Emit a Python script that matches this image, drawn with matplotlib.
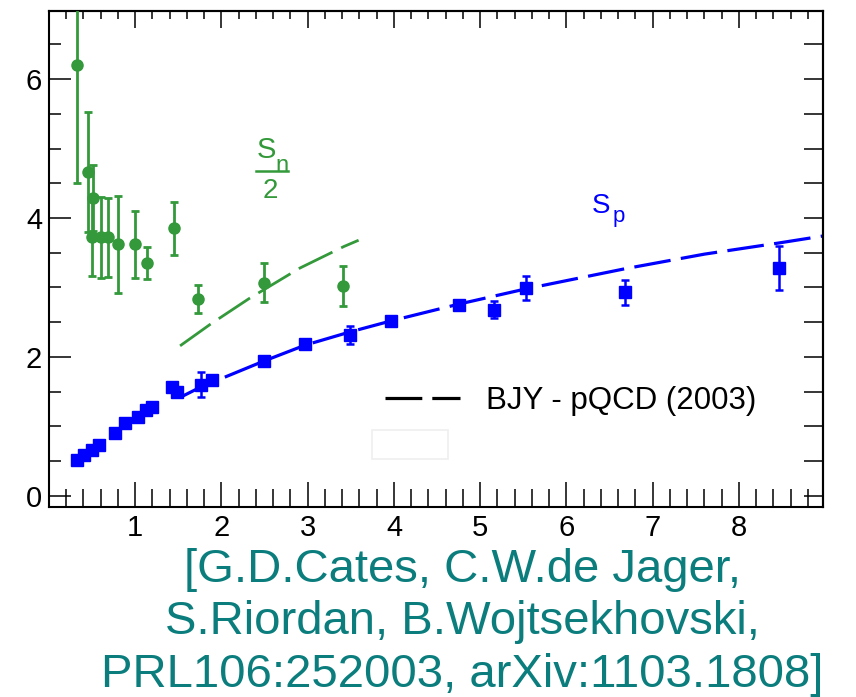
import numpy as np
import matplotlib
matplotlib.use('Agg')
import matplotlib.pyplot as plt
from matplotlib.lines import Line2D
from matplotlib.patches import Rectangle
from matplotlib.ticker import MultipleLocator

plt.rcParams['font.family'] = ['Liberation Sans', 'DejaVu Sans']
plt.rcParams['lines.scale_dashes'] = False

# neutron data, S_n / 2
sn_x = [0.32, 0.45, 0.51, 0.50, 0.60, 0.68, 0.80, 1.00, 1.14, 1.45, 1.73, 2.49, 3.41]
sn_y = [6.20, 4.66, 4.29, 3.72, 3.72, 3.72, 3.62, 3.62, 3.35, 3.85, 2.83, 3.07, 3.02]
sn_err = [1.70, 0.86, 0.47, 0.56, 0.58, 0.57, 0.70, 0.48, 0.23, 0.38, 0.20, 0.28, 0.29]

# proton data, S_p
sp_x = [0.33, 0.41, 0.50, 0.585, 0.77, 0.88, 1.03, 1.13, 1.20, 1.43, 1.49, 1.76, 1.89,
        2.49, 2.97, 3.49, 3.96, 4.75, 5.16, 5.53, 6.68, 8.46]
sp_y = [0.52, 0.59, 0.66, 0.73, 0.90, 1.05, 1.13, 1.24, 1.28, 1.57, 1.50, 1.60, 1.67,
        1.94, 2.18, 2.32, 2.52, 2.75, 2.68, 2.99, 2.93, 3.28]
sp_err = [0, 0, 0, 0, 0, 0, 0, 0, 0, 0, 0, 0.18, 0,
          0, 0, 0.13, 0, 0, 0.12, 0.17, 0.18, 0.31]

# BJY - pQCD (2003) curves
bjy_n_x = [1.52, 1.87, 2.32, 2.91, 3.42, 3.59]
bjy_n_y = [2.16, 2.47, 2.84, 3.28, 3.59, 3.68]
bjy_p_x = [1.54, 1.78, 2.04, 2.49, 2.97, 3.49, 3.97, 4.75, 5.53, 6.68, 7.60, 8.46, 8.97]
bjy_p_y = [1.43, 1.58, 1.71, 1.94, 2.17, 2.36, 2.52, 2.76, 2.98, 3.27, 3.48, 3.64, 3.74]

xticks = [1, 2, 3, 4, 5, 6, 7, 8]
yticks = [0, 2, 4, 6]

GREEN = '#33993a'
BLUE = '#0000ff'
TEAL = '#0b7d7d'

W, H = 856, 697
fig = plt.figure(figsize=(W / 100, H / 100), dpi=100)
ax = fig.add_axes([49 / W, 1 - 507 / H, 774 / W, 496 / H])


def fpos(x, y):
    # pixel position -> figure fraction
    return x / W, 1 - y / H


# theory curves
ax.plot(bjy_n_x, bjy_n_y, color=GREEN, lw=2.0, dashes=(27, 7.0), zorder=2)
ax.plot(bjy_p_x, bjy_p_y, color=BLUE, lw=2.3, dashes=(26.5, 7.5), zorder=2)

# neutron points
ax.errorbar(sn_x, sn_y, yerr=sn_err, fmt='o', ms=8, color=GREEN,
            elinewidth=2.0, capsize=2.8, capthick=2.0, zorder=3)

# proton points
sp_x = np.array(sp_x)
sp_y = np.array(sp_y)
sp_err = np.array(sp_err)
has_err = sp_err > 0
ax.errorbar(sp_x[has_err], sp_y[has_err], yerr=sp_err[has_err], fmt='none',
            ecolor=BLUE, elinewidth=1.8, capsize=3.0, capthick=1.8, zorder=3)
ax.plot(sp_x, sp_y, 's', ms=8.5, color=BLUE, zorder=4)

ax.set_xlim(0.0, 8.975)
ax.set_ylim(-0.16, 6.98)

ax.set_xticks(xticks)
ax.set_yticks(yticks)
ax.xaxis.set_minor_locator(MultipleLocator(0.2))
ax.yaxis.set_minor_locator(MultipleLocator(0.5))
ax.tick_params(axis='x', which='major', direction='in', length=18, width=1.1,
               labelsize=21, pad=5)
ax.tick_params(axis='x', which='minor', direction='in', length=13, width=1.1)
ax.tick_params(axis='y', which='major', direction='in', length=16, width=1.1,
               labelsize=21, pad=5)
ax.tick_params(axis='y', which='minor', direction='in', length=8.5, width=1.1)
for s in ax.spines.values():
    s.set_linewidth(1.5)

# top and right ticks, shorter
top = ax.secondary_xaxis('top')
top.set_xticks(xticks)
top.xaxis.set_minor_locator(MultipleLocator(0.2))
top.tick_params(which='major', direction='in', length=12, width=1.1, labeltop=False)
top.tick_params(which='minor', direction='in', length=5.5, width=1.1)
top.spines['top'].set_linewidth(1.5)
right = ax.secondary_yaxis('right')
right.set_yticks(yticks)
right.yaxis.set_minor_locator(MultipleLocator(0.5))
right.tick_params(which='both', direction='in', length=14, width=1.1, labelright=False)
right.spines['right'].set_linewidth(1.5)

# legend
bjy_handle = Line2D([], [], color='black', lw=2.3, dashes=(26.5, 7.2))
ax.legend(handles=[bjy_handle], labels=['BJY - pQCD (2003)'], loc='center left',
          bbox_to_anchor=((385 - 49) / 774, (507 - 401) / 496), frameon=False,
          fontsize=22.5, handlelength=75 / 31.2, handletextpad=26 / 31.2,
          borderpad=0, borderaxespad=0)

# curve labels
fig.text(*fpos(266, 158), 'S', color=GREEN, fontsize=21, ha='center', va='baseline')
fig.text(*fpos(282, 172), 'n', color=GREEN, fontsize=17, ha='center', va='baseline')
fig.add_artist(Line2D([256 / W, 288 / W], [1 - 171 / H, 1 - 171 / H], color=GREEN, lw=1.8))
fig.text(*fpos(270, 198), '2', color=GREEN, fontsize=20, ha='center', va='baseline')

fig.text(*fpos(601, 213), 'S', color=BLUE, fontsize=20, ha='center', va='baseline')
fig.text(*fpos(619, 222), 'p', color=BLUE, fontsize=16, ha='center', va='baseline')

# faint box
fig.add_artist(Rectangle(fpos(372, 459), 76 / W, 29 / H, fill=False,
                         edgecolor='#efefef', lw=1.2))

# reference text
ref_lines = ['[G.D.Cates, C.W.de Jager,',
             'S.Riordan, B.Wojtsekhovski,',
             'PRL106:252003, arXiv:1103.1808]']
for i, line in enumerate(ref_lines):
    fig.text(*fpos(462, 582 + 52.5 * i), line, color=TEAL, fontsize=34,
             ha='center', va='baseline')

fig.savefig('out.png', dpi=100)
